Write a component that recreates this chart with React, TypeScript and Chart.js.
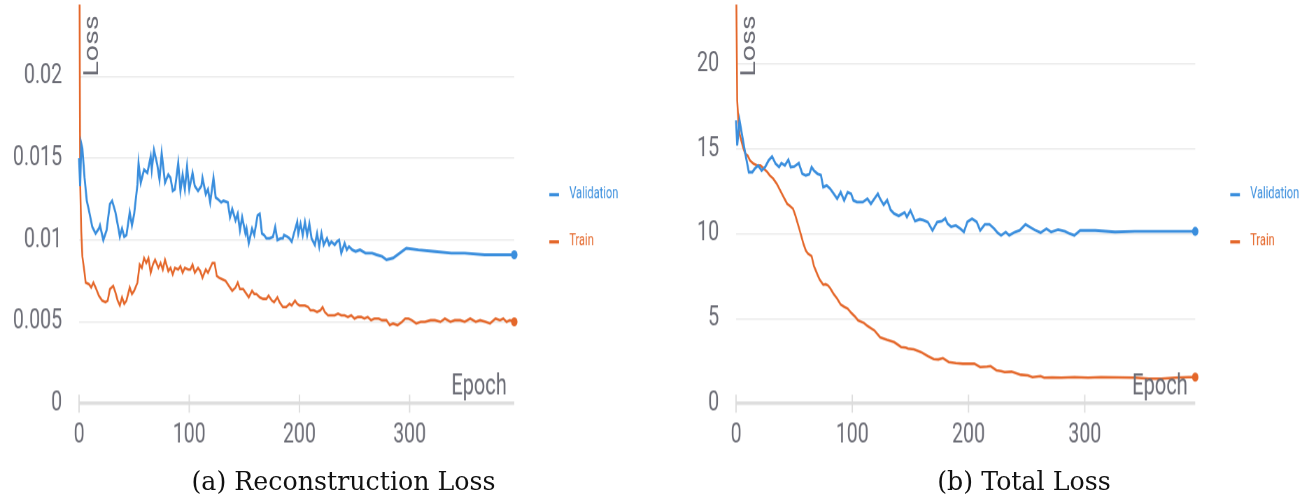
import React, { useEffect, useRef } from "react";
import { Chart, registerables } from "chart.js";

Chart.register(...registerables);

// ---------- data ----------
const reconValEpochs = [0, 1, 2, 3, 5, 7, 9, 12, 15, 18, 19, 22, 25, 28, 30, 33, 36, 37, 39, 41, 43, 46, 48, 50, 53, 54, 56, 59, 62, 65, 66, 68, 71, 73, 75, 78, 81, 83, 85, 87, 90, 92, 94, 96, 98, 100, 103, 105, 108, 111, 112, 115, 117, 119, 122, 124, 126, 129, 131, 135, 137, 139, 142, 144, 146, 148, 151, 152, 154, 157, 159, 162, 164, 166, 168, 170, 173, 176, 178, 180, 183, 185, 186, 189, 191, 193, 195, 198, 199, 201, 203, 205, 207, 209, 211, 214, 216, 218, 220, 222, 225, 227, 229, 232, 234, 236, 238, 241, 243, 245, 248, 251, 255, 260, 266, 270, 275, 279, 285, 291, 297, 308, 323, 338, 350, 368, 395];
const reconValLoss = [0.015, 0.0133, 0.0159, 0.0156, 0.0138, 0.0124, 0.0118, 0.0108, 0.0104, 0.0107, 0.0109, 0.01, 0.0106, 0.0122, 0.0124, 0.0117, 0.0106, 0.0102, 0.0107, 0.0102, 0.0103, 0.0117, 0.0109, 0.0116, 0.0134, 0.0147, 0.0135, 0.0143, 0.0141, 0.0151, 0.0143, 0.0155, 0.0146, 0.0137, 0.0153, 0.0135, 0.014, 0.0138, 0.013, 0.0131, 0.0147, 0.013, 0.014, 0.0131, 0.0145, 0.0131, 0.0141, 0.0133, 0.013, 0.0133, 0.0138, 0.0128, 0.0131, 0.0123, 0.0138, 0.0126, 0.0125, 0.0123, 0.0124, 0.0123, 0.0114, 0.0119, 0.0112, 0.0116, 0.0106, 0.0114, 0.0104, 0.0107, 0.0098, 0.0107, 0.0103, 0.0115, 0.0116, 0.0104, 0.0103, 0.0101, 0.0101, 0.0102, 0.0108, 0.01, 0.0101, 0.0101, 0.0103, 0.0102, 0.0101, 0.0099, 0.0104, 0.0111, 0.0104, 0.011, 0.0103, 0.0111, 0.0103, 0.011, 0.0101, 0.0097, 0.0104, 0.0096, 0.0104, 0.0097, 0.0101, 0.0097, 0.0099, 0.0097, 0.0099, 0.01, 0.0092, 0.0098, 0.0094, 0.0096, 0.0094, 0.0093, 0.0094, 0.0092, 0.0092, 0.0091, 0.009, 0.0088, 0.0089, 0.0092, 0.0095, 0.0094, 0.0093, 0.0092, 0.0092, 0.0091, 0.0091];

const reconTrainEpochs = [0, 1, 2, 3, 5, 6, 9, 11, 13, 15, 18, 21, 24, 26, 28, 31, 33, 35, 37, 39, 41, 43, 46, 48, 50, 53, 55, 57, 59, 61, 63, 65, 67, 69, 72, 74, 76, 78, 81, 83, 85, 87, 90, 92, 94, 96, 99, 101, 103, 105, 108, 110, 112, 115, 117, 119, 121, 123, 125, 127, 130, 133, 136, 139, 142, 144, 146, 149, 151, 154, 157, 159, 161, 164, 167, 170, 172, 175, 177, 180, 182, 185, 188, 191, 193, 196, 198, 200, 202, 205, 208, 210, 213, 216, 219, 221, 223, 226, 229, 232, 235, 238, 241, 244, 247, 250, 253, 256, 259, 262, 265, 268, 272, 275, 279, 282, 285, 289, 293, 296, 299, 302, 306, 310, 314, 319, 323, 328, 332, 337, 341, 346, 350, 355, 360, 364, 369, 373, 378, 382, 385, 388, 391, 395];
const reconTrainLoss = [0.035, 0.0135, 0.0105, 0.009, 0.008, 0.0074, 0.0073, 0.0071, 0.0074, 0.0071, 0.0066, 0.0063, 0.0062, 0.0063, 0.007, 0.0072, 0.0068, 0.0063, 0.006, 0.0065, 0.0061, 0.0063, 0.0071, 0.0067, 0.0069, 0.0074, 0.0085, 0.0083, 0.0089, 0.0086, 0.0089, 0.008, 0.0085, 0.0088, 0.0083, 0.0086, 0.0082, 0.0088, 0.0081, 0.0083, 0.0079, 0.0083, 0.0082, 0.0084, 0.008, 0.0083, 0.0082, 0.0082, 0.0085, 0.008, 0.0083, 0.0081, 0.0077, 0.0082, 0.008, 0.0083, 0.0086, 0.0086, 0.0078, 0.0077, 0.0076, 0.0075, 0.0072, 0.0069, 0.0071, 0.0074, 0.007, 0.007, 0.0068, 0.0065, 0.0069, 0.0067, 0.0067, 0.0065, 0.0064, 0.0064, 0.0066, 0.0063, 0.0062, 0.0065, 0.0062, 0.0059, 0.0059, 0.0061, 0.006, 0.0063, 0.0061, 0.006, 0.006, 0.006, 0.0059, 0.0057, 0.0057, 0.0056, 0.0057, 0.0059, 0.0056, 0.0054, 0.0054, 0.0054, 0.0055, 0.0054, 0.0054, 0.0053, 0.0054, 0.0052, 0.0053, 0.0053, 0.0052, 0.0053, 0.0051, 0.0052, 0.0052, 0.0051, 0.0051, 0.0048, 0.0049, 0.0048, 0.005, 0.0052, 0.0052, 0.0051, 0.0049, 0.005, 0.005, 0.0051, 0.0051, 0.005, 0.0052, 0.005, 0.0051, 0.0051, 0.005, 0.0052, 0.005, 0.0051, 0.005, 0.0049, 0.0052, 0.0051, 0.0052, 0.005, 0.0051, 0.005];

const totalValEpochs = [0, 1, 3, 5, 8, 11, 14, 16, 19, 22, 25, 28, 31, 34, 37, 39, 42, 45, 47, 50, 54, 57, 60, 63, 65, 67, 70, 73, 75, 78, 81, 84, 87, 90, 93, 96, 99, 101, 104, 109, 113, 116, 119, 122, 124, 127, 130, 133, 136, 140, 145, 147, 150, 154, 158, 161, 165, 169, 173, 177, 180, 182, 185, 189, 193, 196, 199, 203, 207, 210, 214, 218, 222, 225, 228, 232, 235, 240, 244, 249, 253, 257, 262, 267, 271, 277, 283, 287, 291, 296, 309, 326, 343, 366, 395];
const totalValLoss = [16.67, 15.19, 16.67, 15.88, 14.7, 13.62, 13.62, 13.82, 14.02, 13.72, 13.92, 14.31, 14.55, 14.12, 13.92, 14.15, 14.02, 14.35, 13.92, 13.95, 14.15, 13.53, 13.43, 13.5, 13.92, 13.72, 13.53, 13.45, 12.74, 12.84, 12.65, 12.35, 12.06, 12.45, 11.96, 12.45, 12.35, 11.96, 11.86, 11.86, 12.06, 11.76, 12.06, 12.35, 12.05, 11.7, 11.98, 11.4, 11.18, 11.05, 11.25, 10.98, 11.37, 10.74, 10.85, 10.8, 10.68, 10.19, 10.68, 10.74, 10.9, 10.59, 10.41, 10.49, 10.29, 10.1, 10.7, 10.88, 10.7, 10.19, 10.55, 10.55, 10.3, 10.05, 9.9, 10.1, 9.9, 10.1, 10.19, 10.55, 10.38, 10.22, 10.06, 10.29, 10.1, 10.24, 10.14, 10.0, 9.9, 10.19, 10.19, 10.1, 10.14, 10.14, 10.14];

const totalTrainEpochs = [0, 1, 2, 3, 6, 8, 10, 12, 15, 18, 21, 24, 27, 29, 32, 35, 38, 41, 44, 46, 49, 51, 54, 56, 58, 60, 62, 65, 67, 70, 72, 75, 77, 79, 81, 84, 87, 90, 93, 96, 99, 102, 105, 110, 113, 117, 119, 124, 130, 136, 140, 142, 146, 148, 153, 159, 165, 170, 174, 178, 183, 189, 195, 200, 205, 210, 216, 219, 224, 228, 231, 237, 245, 251, 255, 262, 265, 272, 280, 291, 303, 314, 329, 343, 355, 366, 378, 389, 395];
const totalTrainLoss = [26.0, 17.84, 16.67, 15.88, 15.1, 14.7, 14.6, 14.31, 14.12, 14.02, 14.02, 13.82, 13.62, 13.43, 13.24, 12.94, 12.55, 12.15, 11.76, 11.66, 11.47, 11.08, 10.39, 9.9, 9.4, 9.02, 8.82, 8.68, 8.1, 7.6, 7.3, 7.0, 7.03, 6.96, 6.8, 6.45, 6.18, 5.83, 5.7, 5.59, 5.35, 5.15, 4.9, 4.75, 4.58, 4.4, 4.31, 3.9, 3.75, 3.62, 3.43, 3.33, 3.3, 3.24, 3.2, 3.04, 2.8, 2.62, 2.6, 2.68, 2.45, 2.39, 2.35, 2.36, 2.35, 2.15, 2.18, 2.21, 1.96, 1.92, 1.86, 1.88, 1.7, 1.66, 1.56, 1.62, 1.53, 1.55, 1.53, 1.56, 1.53, 1.56, 1.55, 1.53, 1.47, 1.47, 1.53, 1.56, 1.56];

const reconYTicks = [0, 0.005, 0.01, 0.015, 0.02];
const totalYTicks = [0, 5, 10, 15, 20];
const epochTicks = [0, 100, 200, 300];
const seriesLabels = ["Validation", "Train"];
const yTitle = "Loss";
const xTitle = "Epoch";
const captionA = "(a) Reconstruction Loss";
const captionB = "(b) Total Loss";

// ---------- styles ----------
const BLUE = "#3a8edd";
const ORANGE = "#e4672a";
const TEXT = "#6b6c75";
const SY = 1.43; // vertical stretch of the figure
const CANVAS_H = 315;
const FONT = "Roboto, Arial, sans-serif";

Chart.defaults.font.family = FONT;

const toXY = (xs: number[], ys: number[]) => xs.map((x, i) => ({ x, y: ys[i] }));

const decor = {
  id: "decor",
  beforeDatasetsDraw(chart: any) {
    const { ctx, chartArea } = chart;
    const xs = chart.scales.x;
    ctx.save();
    ctx.strokeStyle = "#dcdcdc";
    ctx.lineWidth = 1.3;
    for (const t of xs.ticks) {
      const px = xs.getPixelForValue(t.value);
      ctx.beginPath();
      ctx.moveTo(px, chartArea.bottom - 6.3);
      ctx.lineTo(px, chartArea.bottom + 6.3);
      ctx.stroke();
    }
    ctx.restore();
  },
  afterDatasetsDraw(chart: any, _args: any, o: any) {
    const { ctx, chartArea } = chart;
    ctx.save();
    ctx.fillStyle = TEXT;
    ctx.font = `20px ${FONT}`;
    // y title, rotated, inside plot top-left
    ctx.save();
    ctx.translate(chartArea.left + 19, chartArea.top + 6.5);
    ctx.rotate(-Math.PI / 2);
    ctx.textAlign = "right";
    ctx.textBaseline = "alphabetic";
    ctx.fillText(yTitle, 0, 0);
    ctx.restore();
    // x title, inside plot bottom-right
    ctx.textAlign = "right";
    ctx.textBaseline = "alphabetic";
    ctx.fillText(xTitle, chartArea.right - 7.5, chartArea.bottom - 6.3);
    // legend
    ctx.font = `11px ${FONT}`;
    ctx.textAlign = "left";
    ctx.textBaseline = "middle";
    const colors = [BLUE, ORANGE];
    o.legendY.forEach((y: number, i: number) => {
      ctx.strokeStyle = colors[i];
      ctx.lineWidth = 2.3;
      ctx.beginPath();
      ctx.moveTo(chartArea.right + 35, y);
      ctx.lineTo(chartArea.right + 44.7, y);
      ctx.stroke();
      ctx.fillStyle = colors[i];
      ctx.fillText(seriesLabels[i], chartArea.right + 55, y - 0.5);
    });
    ctx.restore();
  },
};

type Cfg = {
  left: number;
  width: number;
  padRight: number;
  yMax: number;
  yTicks: number[];
  val: { x: number; y: number }[];
  train: { x: number; y: number }[];
};

function LossChart({ cfg }: { cfg: Cfg }) {
  const ref = useRef<HTMLCanvasElement>(null);
  useEffect(() => {
    const lastOnly = (r: number) => (c: any) =>
      c.dataIndex === c.dataset.data.length - 1 ? r : 0;
    const chart = new Chart(ref.current!, {
      type: "line",
      data: {
        datasets: [
          {
            label: seriesLabels[0],
            data: cfg.val,
            borderColor: BLUE,
            backgroundColor: BLUE,
            borderWidth: 2,
            pointRadius: lastOnly(3.2) as any,
            pointBorderWidth: 0,
            tension: 0,
            clip: 6,
          },
          {
            label: seriesLabels[1],
            data: cfg.train,
            borderColor: ORANGE,
            backgroundColor: ORANGE,
            borderWidth: 1.8,
            pointRadius: lastOnly(3.2) as any,
            pointBorderWidth: 0,
            tension: 0,
            clip: { left: 6, right: 6, top: 1, bottom: 6 } as any,
          },
        ],
      },
      options: {
        animation: false,
        responsive: true,
        maintainAspectRatio: false,
        devicePixelRatio: SY,
        events: [],
        layout: { padding: { top: 4.2, right: cfg.padRight, bottom: 0, left: 0 } },
        plugins: {
          legend: { display: false },
          tooltip: { enabled: false },
          decor: { legendY: [136, 169] },
        } as any,
        scales: {
          x: {
            type: "linear",
            min: 0,
            max: 395,
            afterBuildTicks: (s: any) => {
              s.ticks = epochTicks.map((v) => ({ value: v }));
            },
            afterFit: (s: any) => {
              s.height = 33;
              s.paddingLeft = 0;
              s.paddingRight = 0;
              s.paddingTop = 0;
              s.paddingBottom = 0;
            },
            grid: { display: false, drawTicks: false },
            border: { display: false },
            ticks: {
              color: TEXT,
              font: { size: 19.5, family: FONT },
              padding: 10.5,
              maxRotation: 0,
              autoSkip: false,
              callback: (v: any) => String(v),
            },
          },
          y: {
            type: "linear",
            min: 0,
            max: cfg.yMax,
            afterBuildTicks: (s: any) => {
              s.ticks = cfg.yTicks.map((v) => ({ value: v }));
            },
            afterFit: (s: any) => {
              s.width = 79;
              s.paddingLeft = 0;
              s.paddingRight = 0;
              s.paddingTop = 0;
              s.paddingBottom = 0;
            },
            grid: {
              drawTicks: false,
              color: (c: any) => (c.tick && c.tick.value === 0 ? "#dedede" : "#ebebeb"),
              lineWidth: (c: any) => (c.tick && c.tick.value === 0 ? 2.5 : 1),
            },
            border: { display: false },
            ticks: {
              color: TEXT,
              font: { size: 19.5, family: FONT },
              padding: 17,
              callback: (v: any) => String(Number(Number(v).toFixed(6))),
            },
          },
        },
      },
      plugins: [decor as any],
    });
    return () => chart.destroy();
  }, []);
  return (
    <div
      style={{
        position: "fixed",
        left: cfg.left,
        top: 0,
        width: cfg.width,
        height: CANVAS_H,
        transform: `scaleY(${SY})`,
        transformOrigin: "0 0",
      }}
    >
      <canvas ref={ref} />
    </div>
  );
}

const captionStyle = (center: number): React.CSSProperties => ({
  position: "fixed",
  left: center - 250,
  width: 500,
  top: 467,
  textAlign: "center",
  fontFamily: '"DejaVu Serif", serif',
  fontSize: 25.3,
  lineHeight: "30px",
  color: "#111",
  whiteSpace: "nowrap",
});

export default function App() {
  const cfgA: Cfg = {
    left: 0,
    width: 650,
    padRight: 136,
    yMax: 0.0243,
    yTicks: reconYTicks,
    val: toXY(reconValEpochs, reconValLoss),
    train: toXY(reconTrainEpochs, reconTrainLoss),
  };
  const cfgB: Cfg = {
    left: 657,
    width: 652,
    padRight: 114,
    yMax: 23.4,
    yTicks: totalYTicks,
    val: toXY(totalValEpochs, totalValLoss),
    train: toXY(totalTrainEpochs, totalTrainLoss),
  };
  return (
    <div>
      <LossChart cfg={cfgA} />
      <LossChart cfg={cfgB} />
      <div style={captionStyle(343.5)}>{captionA}</div>
      <div style={captionStyle(1024)}>{captionB}</div>
    </div>
  );
}
